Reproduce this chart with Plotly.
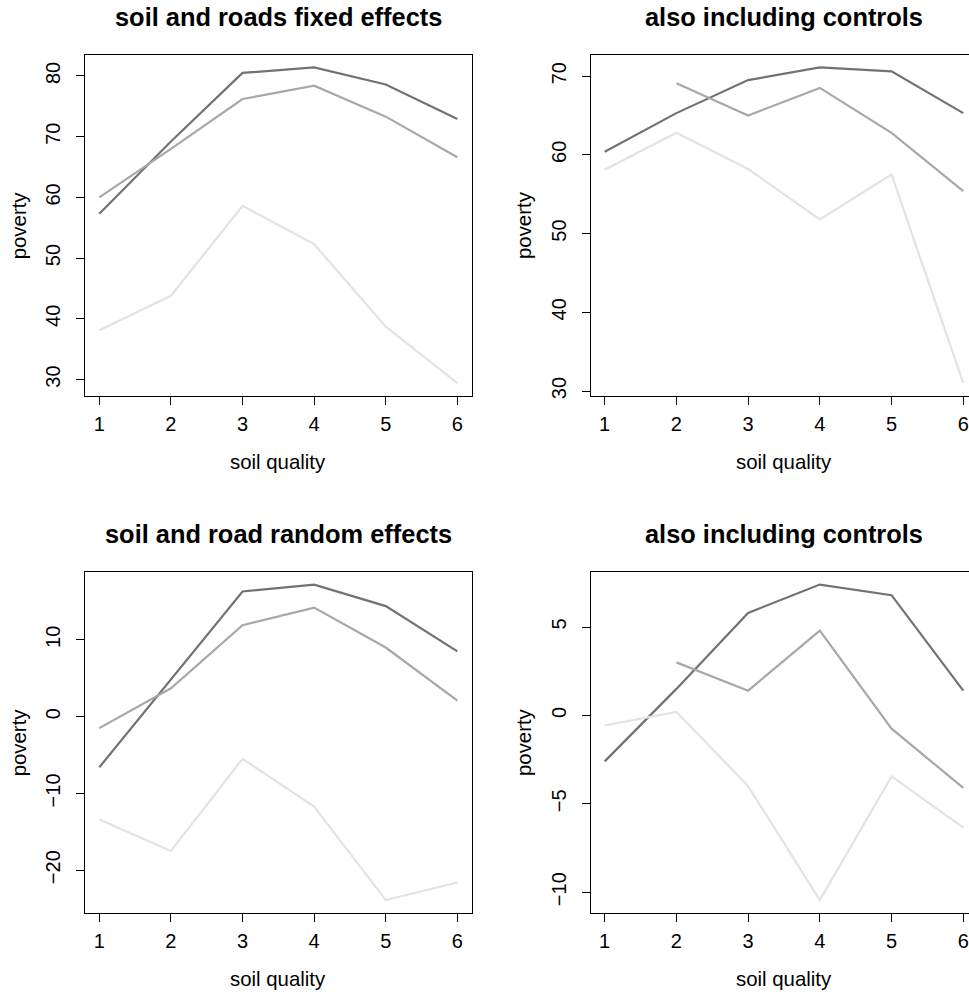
import plotly.graph_objects as go

W, H = 969, 995

soil = [1, 2, 3, 4, 5, 6]

# panel 1: soil and roads fixed effects
p1_dark = [57.3, 69.2, 80.5, 81.4, 78.6, 72.9]
p1_mid = [60.0, 68.0, 76.2, 78.4, 73.3, 66.6]
p1_light = [38.1, 43.8, 58.6, 52.3, 38.7, 29.4]

# panel 2: also including controls
p2_dark = [60.4, 65.3, 69.5, 71.1, 70.6, 65.3]
p2_mid = [None, 69.1, 65.0, 68.5, 62.8, 55.4]
p2_light = [58.1, 62.8, 58.2, 51.8, 57.5, 31.0]

# panel 3: soil and road random effects
p3_dark = [-6.6, 4.8, 16.3, 17.2, 14.4, 8.5]
p3_mid = [-1.5, 3.7, 11.9, 14.2, 9.0, 2.1]
p3_light = [-13.4, -17.5, -5.5, -11.7, -23.9, -21.6]

# panel 4: also including controls
p4_dark = [-2.6, 1.5, 5.8, 7.4, 6.8, 1.4]
p4_mid = [None, 3.0, 1.4, 4.8, -0.75, -4.1]
p4_light = [-0.57, 0.2, -4.0, -10.45, -3.45, -6.35]

titles = ["soil and roads fixed effects", "also including controls",
          "soil and road random effects", "also including controls"]
yticks = [[30, 40, 50, 60, 70, 80], [30, 40, 50, 60, 70],
          [-20, -10, 0, 10], [-10, -5, 0, 5]]
yticktext = [[str(v).replace("-", "\u2212") for v in t] for t in yticks]
xlabel = "soil quality"
ylabel = "poverty"

colors = ["#727272", "#a8a8a8", "#e3e3e3"]
series = [[p1_dark, p1_mid, p1_light], [p2_dark, p2_mid, p2_light],
          [p3_dark, p3_mid, p3_light], [p4_dark, p4_mid, p4_light]]

# pixel boxes (left, right, top, bottom)
boxes = [(85, 471.7, 55, 397), (590.7, 969, 55, 397),
         (85, 471.7, 573.7, 915.5), (590.7, 969, 573.7, 915.5)]
xranges = [[0.8, 6.2], [0.805, 6.08], [0.8, 6.2], [0.805, 6.08]]


def yrange(vals):
    v = [x for s in vals for x in s if x is not None]
    lo, hi = min(v), max(v)
    d = (hi - lo) * 0.04
    return [lo - d, hi + d]


fig = go.Figure()
font = "Liberation Sans, Arial, sans-serif"
annotations = []
for i in range(4):
    n = "" if i == 0 else str(i + 1)
    for s, c in zip(series[i], colors):
        fig.add_trace(go.Scatter(x=soil, y=s, mode="lines",
                                 line=dict(color=c, width=2.2),
                                 xaxis="x" + n, yaxis="y" + n,
                                 showlegend=False, hoverinfo="skip",
                                 connectgaps=False))
    l, r, t, b = boxes[i]
    right_edge = i in (1, 3)
    fig.layout["xaxis" + n] = dict(
        domain=[l / W, r / W], range=xranges[i], anchor="y" + n,
        tickvals=soil, ticktext=[str(v) for v in soil],
        ticks="outside", ticklen=8, tickcolor="black", tickwidth=1,
        showline=True, linecolor="black", linewidth=1, mirror=True,
        showgrid=False, zeroline=False,
        tickfont=dict(family=font, size=20, color="black"),
        ticklabelstandoff=2)
    fig.layout["yaxis" + n] = dict(
        domain=[1 - b / H, 1 - t / H], range=yrange(series[i]), anchor="x" + n,
        tickvals=yticks[i], ticktext=yticktext[i], tickangle=-90,
        ticks="outside", ticklen=8, tickcolor="black", tickwidth=1,
        showline=True, linecolor="black", linewidth=1,
        mirror=False if right_edge else True,
        showgrid=False, zeroline=False,
        tickfont=dict(family=font, size=20, color="black"),
        ticklabelstandoff=8)
    full_r = l + (6.2 - xranges[i][0]) * ((r - l) / (xranges[i][1] - xranges[i][0]))
    cx = (l + full_r) / 2
    annotations.append(dict(text="<b>" + titles[i] + "</b>", x=cx / W, y=1 - (t - 38) / H,
                            xref="paper", yref="paper", showarrow=False,
                            xanchor="center", yanchor="middle",
                            font=dict(family=font, size=25.4, color="black")))
    annotations.append(dict(text=xlabel, x=cx / W, y=1 - (b + 66) / H,
                            xref="paper", yref="paper", showarrow=False,
                            xanchor="center", yanchor="middle",
                            font=dict(family=font, size=20.4, color="black")))
    annotations.append(dict(text=ylabel, x=(l - 66) / W, y=1 - ((t + b) / 2) / H,
                            xref="paper", yref="paper", showarrow=False,
                            textangle=-90, xanchor="center", yanchor="middle",
                            font=dict(family=font, size=20.4, color="black")))

fig.update_layout(width=W, height=H, margin=dict(l=0, r=0, t=0, b=0),
                  paper_bgcolor="white", plot_bgcolor="white",
                  annotations=annotations, showlegend=False)

fig.write_html("out.html", config={"displayModeBar": False},
               post_script="document.body.style.margin='0';document.body.style.overflow='hidden';")
